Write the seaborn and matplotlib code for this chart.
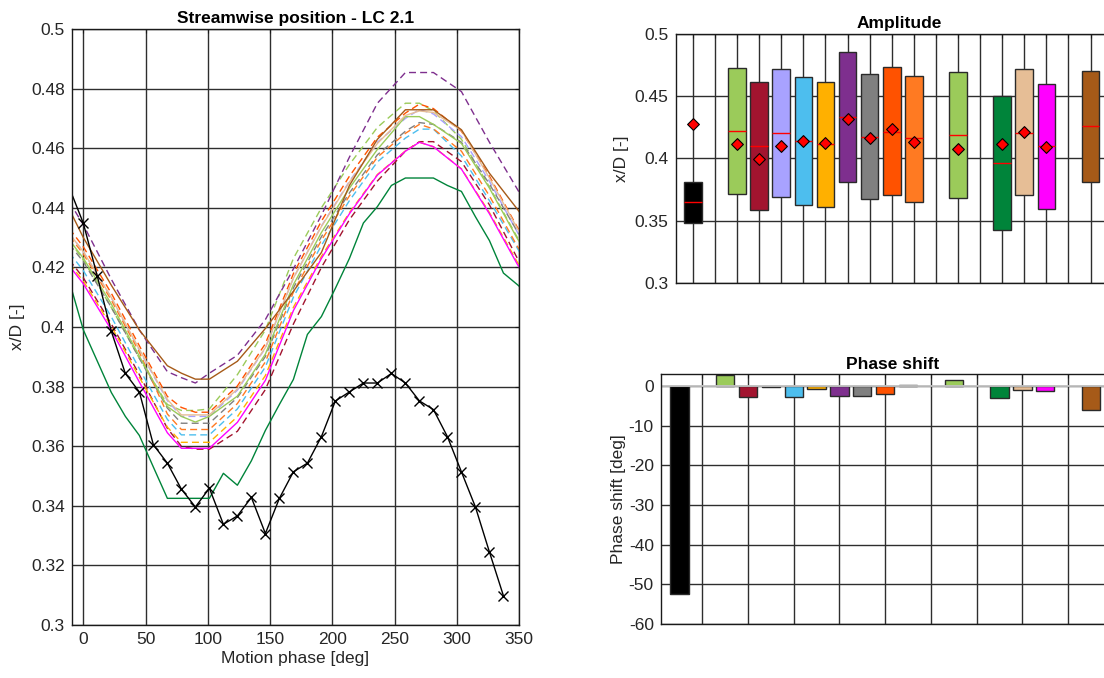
import numpy as np
import pandas as pd
import matplotlib
matplotlib.use("Agg")
import matplotlib.pyplot as plt
from matplotlib.ticker import FormatStrFormatter, NullFormatter
import seaborn as sns

sns.set_style("white")
plt.rcParams["font.family"] = ["Liberation Sans", "DejaVu Sans"]
plt.rcParams["axes.unicode_minus"] = False

# ---------------- data ----------------
# motion phase grids [deg]
PHASE_FINE = [-11.25, 0, 11.25, 22.5, 33.75, 45, 56.25, 67.5, 78.75, 90, 101.25,
              112.5, 123.75, 135, 146.25, 157.5, 168.75, 180, 191.25, 202.5, 213.75,
              225, 236.25, 247.5, 258.75, 270, 281.25, 292.5, 303.75, 315, 326.25,
              337.5, 348.75, 360]
PHASE_COARSE = [-11.25, 0, 22.5, 45, 67.5, 78.75, 90, 101.25, 123.75, 146.25, 168.75,
                191.25, 213.75, 236.25, 258.75, 270, 281.25, 303.75, 326.25, 348.75, 360]

# reference case (black, x markers)
ref_x = [-11.25, 0, 11.25, 22.5, 33.75, 45, 56.25, 67.5, 78.75, 90, 101.25,
         112.5, 123.75, 135, 146.25, 157.5, 168.75, 180, 191.25, 202.5, 213.75,
         225, 236.25, 247.5, 258.75, 270, 281.25, 292.5, 303.75, 315, 326.25, 337.5]
ref_y = [0.4467, 0.4348, 0.4170, 0.3985, 0.3844, 0.3782, 0.3605, 0.3543, 0.3456, 0.3396,
         0.3459, 0.3338, 0.3366, 0.3428, 0.3307, 0.3425, 0.3514, 0.3543, 0.3632, 0.3752,
         0.3782, 0.3812, 0.3812, 0.3844, 0.3812, 0.3752, 0.3723, 0.3632, 0.3514, 0.3396,
         0.3245, 0.3098]

lgreen_d = [0.4290, 0.4225, 0.4065, 0.3895, 0.3740, 0.3720, 0.3720, 0.3725, 0.3840, 0.3990, 0.4230,
            0.4400, 0.4545, 0.4670, 0.4751, 0.4751, 0.4725, 0.4630, 0.4470, 0.4300, 0.4225]
crimson_d = [0.4225, 0.4165, 0.4010, 0.3840, 0.3660, 0.3600, 0.3590, 0.3590, 0.3650, 0.3790, 0.4010,
             0.4200, 0.4360, 0.4490, 0.4590, 0.4622, 0.4622, 0.4555, 0.4410, 0.4230, 0.4160]
lavender_d = [0.4314, 0.4253, 0.4098, 0.3922, 0.3753, 0.3700, 0.3700, 0.3700, 0.3788, 0.3929, 0.4164,
              0.4339, 0.4489, 0.4620, 0.4700, 0.4730, 0.4715, 0.4639, 0.4489, 0.4318, 0.4248]
cyan_d = [0.4249, 0.4189, 0.4034, 0.3860, 0.3690, 0.3638, 0.3638, 0.3638, 0.3725, 0.3866, 0.4100,
          0.4274, 0.4424, 0.4554, 0.4634, 0.4664, 0.4664, 0.4574, 0.4424, 0.4264, 0.4184]
gold_d = [0.4213, 0.4154, 0.4002, 0.3831, 0.3664, 0.3613, 0.3613, 0.3613, 0.3699, 0.3837, 0.4066,
          0.4237, 0.4384, 0.4512, 0.4591, 0.4620, 0.4605, 0.4531, 0.4384, 0.4217, 0.4149]
purple_d = [0.4420, 0.4343, 0.4160, 0.3990, 0.3850, 0.3830, 0.3812, 0.3845, 0.3905, 0.4025, 0.4195,
            0.4375, 0.4570, 0.4751, 0.4854, 0.4854, 0.4854, 0.4790, 0.4620, 0.4462, 0.4380]
gray_d = [0.4278, 0.4219, 0.4066, 0.3895, 0.3728, 0.3677, 0.3677, 0.3677, 0.3763, 0.3901, 0.4131,
          0.4303, 0.4450, 0.4578, 0.4657, 0.4686, 0.4680, 0.4620, 0.4480, 0.4320, 0.4250]
orangered_d = [0.4330, 0.4269, 0.4113, 0.3937, 0.3767, 0.3730, 0.3714, 0.3714, 0.3802, 0.3944, 0.4179,
               0.4355, 0.4506, 0.4637, 0.4718, 0.4748, 0.4733, 0.4657, 0.4506, 0.4334, 0.4264]
orange_d = [0.4305, 0.4245, 0.4090, 0.3915, 0.3708, 0.3656, 0.3656, 0.3656, 0.3743, 0.3883, 0.4117,
            0.4291, 0.4440, 0.4570, 0.4650, 0.4680, 0.4665, 0.4590, 0.4440, 0.4270, 0.4201]
lgreen_s = [0.4292, 0.4231, 0.4077, 0.3902, 0.3733, 0.3700, 0.3681, 0.3700, 0.3768, 0.3909, 0.4142,
            0.4317, 0.4466, 0.4596, 0.4706, 0.4706, 0.4680, 0.4616, 0.4466, 0.4296, 0.4226]
dkgreen_s = [0.4153, 0.3990, 0.3885, 0.3780, 0.3700, 0.3636, 0.3530, 0.3425, 0.3425, 0.3425, 0.3425,
             0.3509, 0.3469, 0.3551, 0.3653, 0.3740, 0.3824, 0.3975, 0.4035, 0.4130, 0.4230,
             0.4349, 0.4404, 0.4475, 0.4500, 0.4500, 0.4500, 0.4475, 0.4455, 0.4370, 0.4290,
             0.4181, 0.4142, 0.4100]
tan_s = [0.4313, 0.4253, 0.4099, 0.3925, 0.3757, 0.3705, 0.3705, 0.3705, 0.3792, 0.3931, 0.4164,
         0.4337, 0.4486, 0.4616, 0.4710, 0.4725, 0.4720, 0.4660, 0.4500, 0.4330, 0.4260]
magenta_s = [0.4205, 0.4145, 0.3990, 0.3815, 0.3645, 0.3593, 0.3593, 0.3593, 0.3680, 0.3821, 0.4055,
             0.4230, 0.4380, 0.4510, 0.4590, 0.4620, 0.4605, 0.4530, 0.4380, 0.4210, 0.4140]
brown_s = [0.4395, 0.4300, 0.4140, 0.3990, 0.3870, 0.3845, 0.3825, 0.3825, 0.3885, 0.3995, 0.4120,
           0.4250, 0.4475, 0.4630, 0.4729, 0.4729, 0.4729, 0.4662, 0.4516, 0.4395, 0.4330]

# amplitude / phase shift per case (slot positions in the right panels)
case_pos = [1, 3, 4, 5, 6, 7, 8, 9, 10, 11, 13, 15, 16, 17, 19]
amp_top = [0.3810, 0.4729, 0.4617, 0.4721, 0.4657, 0.4614, 0.4855, 0.4676, 0.4732, 0.4665,
           0.4694, 0.4504, 0.4716, 0.4601, 0.4705]
amp_bot = [0.3480, 0.3713, 0.3584, 0.3689, 0.3622, 0.3609, 0.3807, 0.3670, 0.3702, 0.3651,
           0.3681, 0.3421, 0.3702, 0.3590, 0.3810]
amp_med = [0.3646, 0.4223, 0.4099, 0.4206, 0.4142, 0.4113, 0.4332, 0.4172, 0.4214, 0.4161,
           0.4188, 0.3965, 0.4206, 0.4099, 0.4257]
amp_mean = [0.4273, 0.4118, 0.3997, 0.4099, 0.4139, 0.4123, 0.4314, 0.4164, 0.4239, 0.4129,
            0.4075, 0.4118, 0.4214, 0.4091, np.nan]
phase_shift = [-52.3, 2.8, -2.8, -0.25, -2.8, -0.7, -2.4, -2.4, -2.0, 0.2,
               1.5, -2.9, -1.0, -1.2, -5.9]

# ---------------- styles ----------------
case_colors = ["#000000", "#9BCB5A", "#A2142F", "#A8A2FF", "#4DBEEE", "#FFB000",
               "#7E2F8E", "#808080", "#FF5200", "#FF7A22", "#9BCB5A", "#00843A",
               "#E6BE96", "#FF00FF", "#A65A18"]
lines = [
    (PHASE_COARSE, lgreen_d, "#9BCB5A", True),
    (PHASE_COARSE, crimson_d, "#A2142F", True),
    (PHASE_COARSE, lavender_d, "#A8A2FF", True),
    (PHASE_COARSE, cyan_d, "#4DBEEE", True),
    (PHASE_COARSE, gold_d, "#FFB000", True),
    (PHASE_COARSE, purple_d, "#7E2F8E", True),
    (PHASE_COARSE, gray_d, "#808080", True),
    (PHASE_COARSE, orangered_d, "#FF5200", True),
    (PHASE_COARSE, orange_d, "#FF7A22", True),
    (PHASE_COARSE, lgreen_s, "#9BCB5A", False),
    (PHASE_FINE, dkgreen_s, "#00843A", False),
    (PHASE_COARSE, tan_s, "#E6BE96", False),
    (PHASE_COARSE, magenta_s, "#FF00FF", False),
    (PHASE_COARSE, brown_s, "#A65A18", False),
]

GRID_C = "#2e2e2e"
TXT_C = "#262626"
FS = 12.5


def style_axes(ax):
    ax.set_axisbelow(True)
    ax.grid(True, color=GRID_C, lw=1.0)
    for s in ax.spines.values():
        s.set_visible(True)
        s.set_color("#1a1a1a")
        s.set_linewidth(1.0)
    ax.tick_params(direction="in", length=3, width=0.8, pad=5,
                   labelsize=FS, labelcolor=TXT_C, colors="#1a1a1a",
                   top=True, right=True)


fig = plt.figure(figsize=(11.04, 6.78), dpi=100)

# ---------------- left: streamwise position ----------------
ax1 = fig.add_axes([0.0649, 0.0782, 0.4052, 0.879])
for xs, ys, col, dashed in lines:
    sns.lineplot(x=xs, y=ys, color=col, lw=1.0, ax=ax1,
                 linestyle=(0, (5, 3)) if dashed else "-")
sns.lineplot(x=ref_x, y=ref_y, color="black", lw=1.0, marker="x",
             markevery=list(range(1, len(ref_x))),
             markersize=7, markeredgewidth=1.0, markeredgecolor="black", ax=ax1)
ax1.set_xlim(-9.4, 350)
ax1.set_ylim(0.3, 0.5)
ax1.set_xticks(np.arange(0, 351, 50))
ax1.set_yticks(np.arange(0.3, 0.5001, 0.02))
ax1.yaxis.set_major_formatter(FormatStrFormatter("%g"))
style_axes(ax1)
ax1.set_title("Streamwise position - LC 2.1", fontsize=FS, fontweight="bold",
              color="black", pad=4)
ax1.set_xlabel("Motion phase [deg]", fontsize=FS, color=TXT_C, labelpad=3)
ax1.set_ylabel("x/D [-]", fontsize=FS, color=TXT_C, labelpad=4)

# ---------------- right top: amplitude ----------------
ax2 = fig.add_axes([0.612, 0.583, 0.4058, 0.3668])
pos = np.array(case_pos, dtype=float)
ax2.bar(pos, np.subtract(amp_top, amp_bot), bottom=amp_bot, width=0.8,
        color=case_colors, edgecolor="#2a2a2a", linewidth=1.0, zorder=3)
ax2.hlines(amp_med, pos - 0.4, pos + 0.4, color="red", lw=1.0, zorder=4)
sns.scatterplot(x=pos, y=amp_mean, marker="D", color="red", edgecolor="black",
                linewidth=0.8, s=36, zorder=5, ax=ax2)
ax2.set_xlim(0.217, 20.5)
ax2.set_ylim(0.3, 0.5)
ax2.set_xticks(np.arange(1, 21))
ax2.xaxis.set_major_formatter(NullFormatter())
ax2.set_yticks([0.3, 0.35, 0.4, 0.45, 0.5])
ax2.yaxis.set_major_formatter(FormatStrFormatter("%g"))
style_axes(ax2)
ax2.set_title("Amplitude", fontsize=FS, fontweight="bold", color="black", pad=4)
ax2.set_ylabel("x/D [-]", fontsize=FS, color=TXT_C, labelpad=4)

# ---------------- right bottom: phase shift ----------------
ax3 = fig.add_axes([0.5985, 0.0796, 0.4208, 0.3683])
hue_keys = [str(p) for p in case_pos]
sns.barplot(x=case_pos, y=phase_shift, hue=hue_keys,
            palette=dict(zip(hue_keys, case_colors)), native_scale=True,
            width=0.8, edgecolor="#2a2a2a", linewidth=1.0, legend=False,
            saturation=1, ax=ax3)
ax3.axhline(0, color="#c4c4c4", lw=1.3, zorder=1.5)
ax3.set_xlim(0.185, 20.5)
ax3.set_ylim(-60, 3)
ax3.set_xticks(np.arange(2, 21, 2))
ax3.xaxis.set_major_formatter(NullFormatter())
ax3.set_yticks(np.arange(-60, 1, 10))
style_axes(ax3)
ax3.set_xlabel("")
ax3.set_title("Phase shift", fontsize=FS, fontweight="bold", color="black", pad=4)
ax3.set_ylabel("Phase shift [deg]", fontsize=FS, color=TXT_C, labelpad=2)

fig.savefig("out.png", dpi=100)
